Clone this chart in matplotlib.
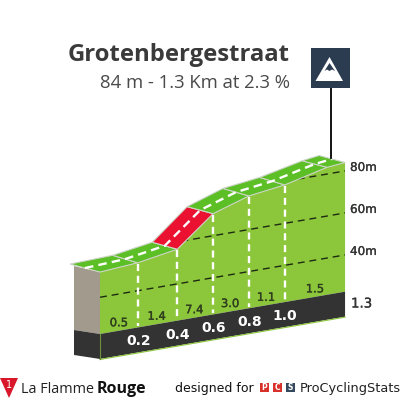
import numpy as np
import matplotlib
matplotlib.use("Agg")
import matplotlib.pyplot as plt
import matplotlib.patheffects as pe
from matplotlib.patches import Polygon, Rectangle

title = "Grotenbergestraat"
subtitle = "84 m - 1.3 Km at 2.3 %"

# profile
km = [0, 0.2, 0.41, 0.6, 0.79, 0.98, 1.205, 1.3]
elev = [52, 53.3, 56.5, 70.5, 76, 78.3, 83.2, 84]
seg_colors = ["#5cbf26", "#5cbf26", "#ea1230", "#5cbf26", "#5cbf26", "#5cbf26", "#5cbf26"]

grade_km = [0.1, 0.3, 0.5, 0.69, 0.88, 1.14]
grade_labels = ["0.5", "1.4", "7.4", "3.0", "1.1", "1.5"]
km_marks = [0.2, 0.41, 0.6, 0.79, 0.98]
km_labels = ["0.2", "0.4", "0.6", "0.8", "1.0"]
grid_elev = [40, 60, 80]
grid_labels = ["40m", "60m", "80m"]
total_label = "1.3"
band_top = 22.5
band_bot = 10.6
km_end = 1.3


def proj(k, e):
    # oblique view, km and metres to picture pixels
    k = np.asarray(k, dtype=float)
    e = np.asarray(e, dtype=float)
    x = 100 + 188.5 * k
    y = 334 - 0.1727 * (x - 100) - 2.1 * (e - band_top)
    return x, y


fig = plt.figure(figsize=(4.05, 4.04), dpi=100)
ax = fig.add_axes([0, 0, 1, 1])
ax.set_xlim(0, 405)
ax.set_ylim(404, 0)
ax.axis("off")

# how far the back edge of the road sits from the front edge
depth_x = np.array([-30, -25, -25, -26, -26, -25, -25, -26])
depth_y = np.array([-8, -7.5, -7, -7, -7.5, -7.5, -6.5, -7])

fx, fy = proj(km, elev)
bx0, by0 = proj([0, km_end], [band_top, band_top])
bx1, by1 = proj([0, km_end], [band_bot, band_bot])

# green body
body = Polygon(list(zip(fx, fy)) + [(bx0[1], by0[1]), (bx0[0], by0[0])], closed=True,
               fc="#8cc63a", ec="none", zorder=2)
ax.add_patch(body)

# left side, ground and rock
ax.add_patch(Polygon([(fx[0], fy[0]), (bx0[0], by0[0]), (bx0[0] - 26, by0[0] - 4),
                      (fx[0] - 26, fy[0] - 6)], closed=True, fc="#a39a8e", ec="none", zorder=2))
ax.add_patch(Polygon([(bx0[0], by0[0]), (bx1[0], by1[0]), (bx1[0] - 26, by1[0] - 4),
                      (bx0[0] - 26, by0[0] - 4)], closed=True, fc="#333333", ec="none", zorder=2))
ax.add_patch(Polygon([(bx0[0], by0[0]), (bx0[1], by0[1]), (bx1[1], by1[1]), (bx1[0], by1[0])],
                     closed=True, fc="#333333", ec="none", zorder=3))
ax.plot(bx1, by1 + 0.5, color="#8cc63a", lw=0.8, zorder=3)
ax.plot([bx0[0], bx0[0]], [by0[0], by1[0]], color="#6f8f3a", lw=0.8, zorder=4)

# altitude lines, cut to the body
for g in grid_elev:
    gx, gy = proj([0, km_end], [g, g])
    ln, = ax.plot(gx, gy, color="#1d2b12", lw=1.0, dashes=(5, 3.5), zorder=3)
    ln.set_clip_path(body)

# road surface
for i in range(len(km) - 1):
    pts = [(fx[i], fy[i]), (fx[i + 1], fy[i + 1]),
           (fx[i + 1] + depth_x[i + 1], fy[i + 1] + depth_y[i + 1]),
           (fx[i] + depth_x[i], fy[i] + depth_y[i])]
    ax.add_patch(Polygon(pts, closed=True, fc=seg_colors[i], ec="#ccd4c6", lw=0.8, zorder=4))

# centre line of the road
ax.plot(fx + depth_x / 2, fy + depth_y / 2, color="white", lw=1.7, dashes=(3.6, 2.2), zorder=5)

# km markers
thick = [pe.withStroke(linewidth=0.2, foreground="#333333")]
for k, lab in zip(km_marks, km_labels):
    i = km.index(k)
    mx, my = proj(k, band_top)
    ax.plot([mx, mx], [fy[i] + 1, my - 1], color="white", lw=1.7, dashes=(3, 2), zorder=3)
    ax.text(mx + 0.5, my + 14, lab, color="white", fontsize=10, fontweight="bold",
            family="DejaVu Sans", ha="center", va="center", zorder=6)

# gradients
for k, lab in zip(grade_km, grade_labels):
    mx, my = proj(k, band_top)
    t = ax.text(mx, my - 8, lab, color="#2f3e1e", fontsize=8.3, family="DejaVu Sans",
                ha="center", va="center", zorder=6)
    t.set_path_effects([pe.withStroke(linewidth=0.25, foreground="#2f3e1e")])

# right labels
for g, lab in zip(grid_elev, grid_labels):
    gx, gy = proj(km_end, g)
    t = ax.text(350, gy - 3.5, lab, color="#333333", fontsize=8.6, family="DejaVu Sans",
                ha="left", va="center", zorder=6)
    t.set_path_effects(thick)
t = ax.text(351, 304, total_label, color="#333333", fontsize=9.6, family="DejaVu Sans",
            ha="left", va="center", zorder=6)
t.set_path_effects(thick)

# title
ax.text(290, 55, title, color="#3a3a3a", fontsize=17.2, fontweight="bold", family="Open Sans",
        ha="right", va="center")
ax.text(290, 83, subtitle, color="#4a4a4a", fontsize=13.3, family="Open Sans",
        ha="right", va="center")

# climb icon and pole
ax.plot([331, 331], [88, 158], color="black", lw=1.3, zorder=6)
ax.add_patch(Rectangle((311, 48), 39, 40, fc="#2b3b50", ec="none", zorder=7))
ax.add_patch(Polygon([(315.5, 81), (343, 81), (329.5, 57)], closed=True, fc="white", ec="none", zorder=8))
ax.add_patch(Polygon([(329.5, 63), (324.5, 71), (327, 69.5), (329.5, 71), (332, 69.5), (335, 71)],
                     closed=True, fc="#2b3b50", ec="none", zorder=9))

# footer
ax.add_patch(Polygon([(0, 378), (18, 378), (9, 398)], closed=True, fc="#d8172b", ec="none"))
ax.text(9, 385, "1", color="white", fontsize=7, ha="center", va="center")
ax.text(21, 393, "La Flamme", color="#222222", fontsize=10.4, family="Open Sans",
        ha="left", va="baseline")
ax.text(97, 393, "Rouge", color="#111111", fontsize=11.5, family="Open Sans", fontweight="bold",
        ha="left", va="baseline")
ax.text(175, 392, "designed for", color="#111111", fontsize=9, family="DejaVu Sans",
        ha="left", va="baseline")
for xb, letter, col in zip([260, 273, 286], ["P", "C", "S"], ["#d8312b", "#d8312b", "#34495e"]):
    ax.add_patch(Rectangle((xb, 383), 9, 9, fc=col, ec="none"))
    ax.text(xb + 4.5, 387.5, letter, color="white", fontsize=5.5, fontweight="bold",
            ha="center", va="center")
ax.text(300, 392, "ProCyclingStats", color="#222222", fontsize=9.3, family="DejaVu Sans",
        ha="left", va="baseline")

fig.savefig("out.png", dpi=100)
